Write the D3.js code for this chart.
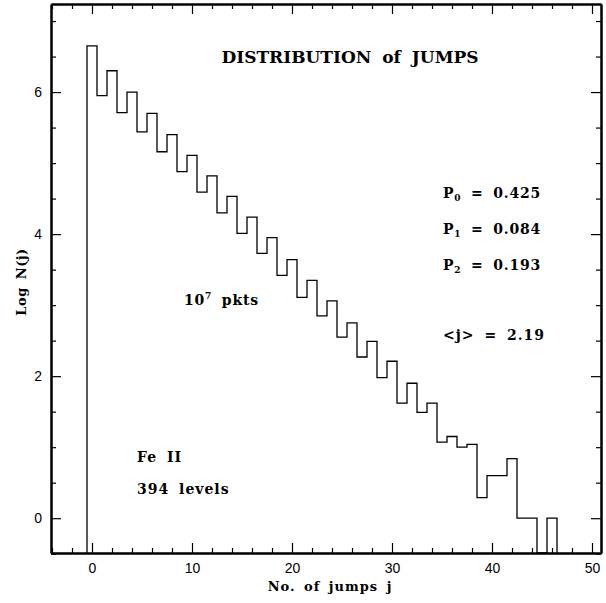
<!DOCTYPE html>
<html>
<head>
<meta charset="utf-8">
<script src="https://cdn.jsdelivr.net/npm/d3@7"></script>
<style>
  body { margin: 0; background: #fff; }
  .ann { font-family: "DejaVu Serif", serif; font-weight: bold; fill: #000; }
  .tick text { font-family: "Liberation Sans", Arial, sans-serif; font-size: 14px; fill: #000; }
</style>
</head>
<body>
<svg id="jumps" width="606" height="603"></svg>
<script>
// number of jumps j (bin centres)
const jumpBins = [0, 1, 2, 3, 4, 5, 6, 7, 8, 9, 10, 11, 12, 13, 14, 15, 16, 17, 18, 19,
  20, 21, 22, 23, 24, 25, 26, 27, 28, 29, 30, 31, 32, 33, 34, 35, 36, 37, 38, 39,
  40, 41, 42, 43, 44, 45, 46];
// Log N(j), null = empty bin
const logN = [6.65, 5.95, 6.30, 5.71, 6.00, 5.44, 5.70, 5.16, 5.40, 4.88,
  5.11, 4.59, 4.82, 4.30, 4.53, 4.01, 4.24, 3.73, 3.95, 3.42,
  3.64, 3.11, 3.35, 2.85, 3.06, 2.55, 2.75, 2.27, 2.49, 1.98,
  2.21, 1.62, 1.90, 1.49, 1.62, 1.07, 1.15, 1.00, 1.04, 0.29,
  0.60, 0.60, 0.84, 0.00, 0.00, null, 0.00];
const xMajor = [0, 10, 20, 30, 40, 50];
const yMajor = [0, 2, 4, 6];

const svg = d3.select("svg#jumps");

//chart plot area
const plot = { left: 51, right: 601, top: 4, bottom: 553 };

//scale functions
const xScale = d3.scaleLinear().domain([-4.1, 50.9]).range([plot.left, plot.right]);
const yScale = d3.scaleLinear().domain([-0.49, 7.24]).range([plot.bottom, plot.top]);

const xMinor = d3.range(-4, 51, 2).filter(v => v % 10 != 0);
const yMinor = d3.range(-0.5, 7.25, 0.5).filter(v => v % 2 != 0);

// axes, ticks pointing inward on all four sides
const axes = svg.append("g");
const addAxis = (axis, tr, vals, size, labels, pad) => {
  const g = axes.append("g")
    .attr("transform", tr)
    .call(axis.tickValues(vals).tickSizeInner(size).tickSizeOuter(0)
      .tickPadding(pad || 3).tickFormat(labels ? d3.format("d") : ""));
  g.select(".domain").attr("stroke-width", 2);
  g.selectAll(".tick line").attr("stroke-width", 1.2);
  return g;
};
addAxis(d3.axisBottom(xScale), `translate(0,${plot.bottom})`, xMajor, -10, true, 10);
addAxis(d3.axisBottom(xScale), `translate(0,${plot.bottom})`, xMinor, -5, false);
addAxis(d3.axisTop(xScale), `translate(0,${plot.top})`, xMajor, -10, false);
addAxis(d3.axisTop(xScale), `translate(0,${plot.top})`, xMinor, -5, false);
addAxis(d3.axisLeft(yScale), `translate(${plot.left},0)`, yMajor, -10, true, 9);
addAxis(d3.axisLeft(yScale), `translate(${plot.left},0)`, yMinor, -5, false);
addAxis(d3.axisRight(yScale), `translate(${plot.right},0)`, yMajor, -10, false);
addAxis(d3.axisRight(yScale), `translate(${plot.right},0)`, yMinor, -5, false);

// histogram outline (empty bins drop to the bottom of the frame)
const floor = yScale.domain()[0];
const pts = [[jumpBins[0] - 0.5, floor]];
jumpBins.forEach((j, i) => {
  const v = logN[i] == null ? floor : logN[i];
  pts.push([j - 0.5, v], [j + 0.5, v]);
});
pts.push([jumpBins[jumpBins.length - 1] + 0.5, floor]);

svg.append("path")
  .attr("d", d3.line().x(d => xScale(d[0])).y(d => yScale(d[1]))(pts))
  .attr("fill", "none")
  .attr("stroke", "#000")
  .attr("stroke-width", 1.3);

// labels
svg.append("text").attr("class", "ann")
  .attr("x", 330).attr("y", 591).attr("text-anchor", "middle")
  .style("font-size", "13px").style("word-spacing", "3px").style("letter-spacing", "1px")
  .text("No. of jumps j");
svg.append("text").attr("class", "ann")
  .attr("transform", "translate(26,282) rotate(-90)").attr("text-anchor", "middle")
  .style("font-size", "13px").style("word-spacing", "3px").style("letter-spacing", "0.5px")
  .text("Log N(j)");

svg.append("text").attr("class", "ann")
  .attr("x", 350).attr("y", 63).attr("text-anchor", "middle")
  .style("font-size", "17px").style("word-spacing", "5px")
  .text("DISTRIBUTION of JUMPS");

const addSub = (x, y, main, sub, rest, sup) => {
  const t = svg.append("text").attr("class", "ann")
    .attr("x", x).attr("y", y)
    .style("font-size", "14px").style("word-spacing", "4px").style("letter-spacing", "0.8px");
  t.append("tspan").text(main);
  t.append("tspan").attr("dy", sup ? -6 : 3).style("font-size", "9px").text(sub);
  t.append("tspan").attr("dy", sup ? 6 : -3).text(rest);
};
addSub(443, 198, "P", "0", " = 0.425");
addSub(443, 234, "P", "1", " = 0.084");
addSub(443, 270, "P", "2", " = 0.193");
addSub(184, 305, "10", "7", " pkts", true);

const plain = [
  { x: 443, y: 340, s: "<j> = 2.19" },
  { x: 137, y: 462, s: "Fe II" },
  { x: 137, y: 494, s: "394 levels" }
];
plain.forEach(p => {
  svg.append("text").attr("class", "ann")
    .attr("x", p.x).attr("y", p.y)
    .style("font-size", "14px").style("word-spacing", "4px").style("letter-spacing", "1px")
    .text(p.s);
});
</script>
</body>
</html>
